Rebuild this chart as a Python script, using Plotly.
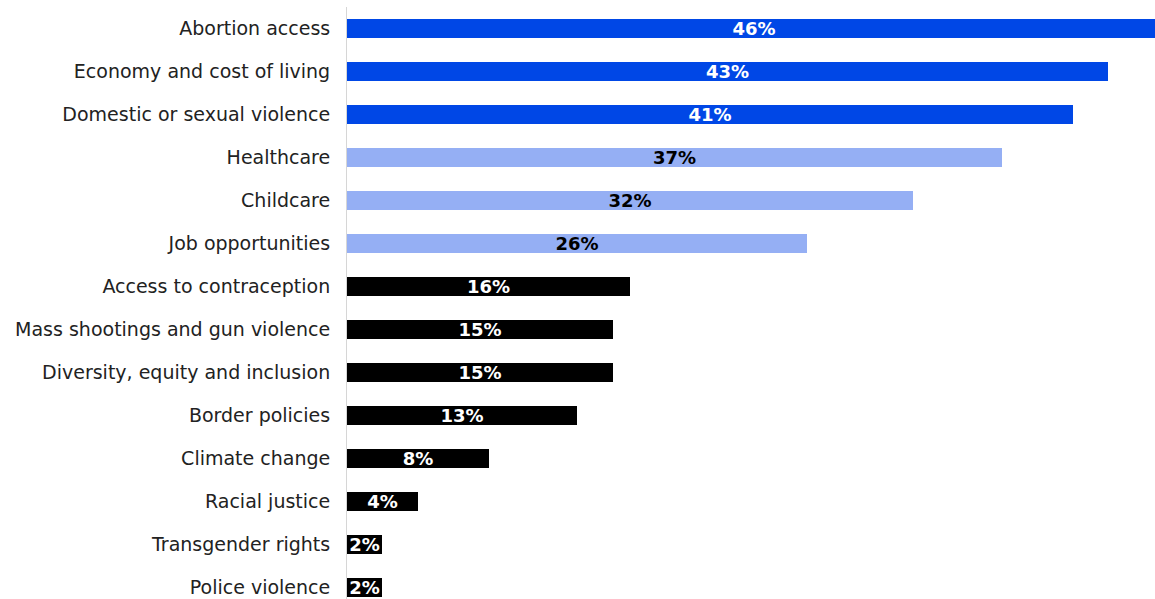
import plotly.graph_objects as go

# Issues ranked by share of respondents (%)
categories = [
    "Abortion access",
    "Economy and cost of living",
    "Domestic or sexual violence",
    "Healthcare",
    "Childcare",
    "Job opportunities",
    "Access to contraception",
    "Mass shootings and gun violence",
    "Diversity, equity and inclusion",
    "Border policies",
    "Climate change",
    "Racial justice",
    "Transgender rights",
    "Police violence",
]
values = [46, 43, 41, 37, 32, 26, 16, 15, 15, 13, 8, 4, 2, 2]
labels = [f"{v}%" for v in values]

# Tier colours: top three, next three, remainder
DARK_BLUE = "#0047E6"
LIGHT_BLUE = "#95AFF4"
BLACK = "#000000"
bar_colors = [DARK_BLUE] * 3 + [LIGHT_BLUE] * 3 + [BLACK] * 8
text_colors = ["#FFFFFF"] * 3 + ["#000000"] * 3 + ["#FFFFFF"] * 8

fig = go.Figure(
    go.Bar(
        x=values,
        y=categories,
        orientation="h",
        width=0.42,
        marker=dict(color=bar_colors, line=dict(width=0)),
        text=labels,
        textposition="inside",
        insidetextanchor="middle",
        textangle=0,
        constraintext="none",
        insidetextfont=dict(family="DejaVu Sans, sans-serif", size=18, color=text_colors, weight="bold"),
        hoverinfo="skip",
    )
)

plot_h = 599 - 7
row_px = 43

fig.update_layout(
    width=1155,
    height=599,
    margin=dict(l=347, r=0, t=7, b=0),
    paper_bgcolor="white",
    plot_bgcolor="white",
    showlegend=False,
    bargap=0,
    xaxis=dict(
        range=[0, 45.65],
        showgrid=False,
        zeroline=False,
        showticklabels=False,
        showline=False,
        fixedrange=True,
    ),
    yaxis=dict(
        categoryorder="array",
        categoryarray=categories,
        range=[-0.5 + plot_h / row_px, -0.5],
        showgrid=False,
        zeroline=False,
        showline=True,
        linecolor="#D6D6D6",
        linewidth=1,
        ticks="",
        ticklabelstandoff=12,
        tickfont=dict(family="DejaVu Sans, sans-serif", size=19, color="#222222"),
        fixedrange=True,
    ),
)

fig.write_html("out.html")
